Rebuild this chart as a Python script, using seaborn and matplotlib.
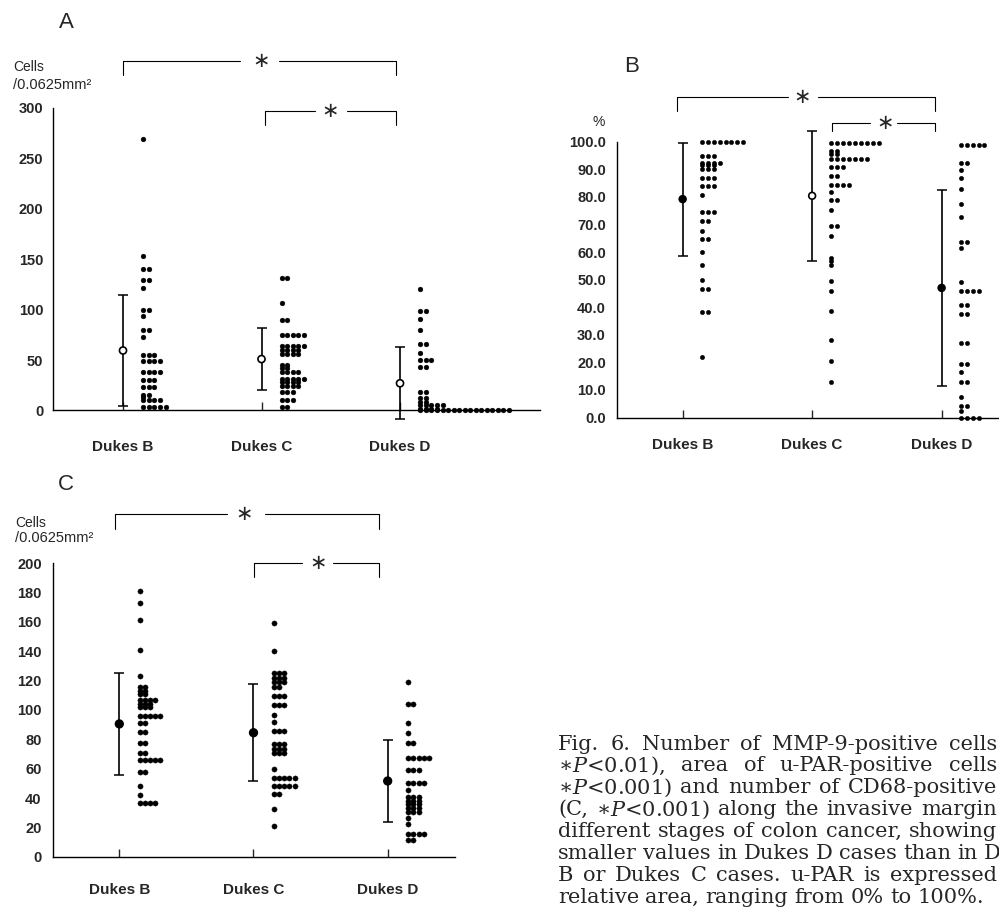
import numpy as np
import pandas as pd
import seaborn as sns
import matplotlib.pyplot as plt

stages = ["Dukes B", "Dukes C", "Dukes D"]

# A: MMP-9-positive cells /0.0625mm2  (value, number of cases with that value)
a_b_values = [269, 153, 140, 129, 121, 100, 94, 80, 73, 55, 49, 38, 30, 23, 15, 13, 10, 3]
a_b_counts = [1, 1, 2, 2, 1, 2, 1, 2, 1, 3, 4, 4, 3, 3, 2, 1, 4, 5]
a_c_values = [131, 107, 90, 75, 64, 60, 56, 45, 42, 38, 31, 28, 24, 18, 10, 3]
a_c_counts = [2, 1, 2, 5, 5, 4, 4, 2, 2, 4, 5, 4, 4, 3, 3, 2]
a_d_values = [120, 99, 91, 80, 66, 57, 50, 43, 18, 12, 8, 5, 1, 0]
a_d_counts = [1, 2, 1, 1, 2, 1, 3, 2, 2, 2, 2, 5, 4, 17]
a_means = [59.5, 51, 27]
a_sds = [55, 31, 35.5]

# B: u-PAR-positive area (%)
b_b_values = [100, 95, 92.4, 91.5, 90, 87, 84, 80.6, 74.6, 71.3, 67.7, 64.7, 60, 55.4, 50, 46.6, 38.3, 21.8]
b_b_counts = [8, 3, 4, 3, 3, 3, 3, 1, 3, 2, 1, 2, 1, 1, 1, 2, 2, 1]
b_c_values = [99.4, 96.7, 95.4, 93.8, 90.7, 87.7, 84.2, 81.9, 79, 75.2, 69.5, 65.9, 57.9, 56.6, 55.4,
              49.5, 46, 38.8, 28, 20.4, 12.7]
b_c_counts = [9, 2, 2, 7, 3, 2, 4, 1, 2, 1, 2, 1, 1, 1, 1, 1, 1, 1, 1, 1, 1]
b_d_values = [98.8, 92.4, 89.7, 86.7, 82.7, 77.4, 72.8, 63.7, 61.3, 49, 45.9, 40.7, 37.7, 27.2, 19.3,
              16.6, 12.7, 7.5, 4.1, 2.4, 0]
b_d_counts = [5, 2, 1, 1, 1, 1, 1, 2, 1, 1, 4, 2, 2, 2, 2, 1, 2, 1, 2, 1, 4]
b_means = [79.2, 80.4, 47]
b_sds = [20.5, 23.5, 35.5]

# C: CD68-positive cells /0.0625mm2
c_b_values = [181, 173, 161, 141, 123, 115.5, 113, 111, 106.7, 104.4, 101.8, 95.6, 91, 85, 77.8, 71, 66,
              57.8, 48, 41.8, 36.7]
c_b_counts = [1, 1, 1, 1, 1, 2, 2, 2, 4, 3, 3, 5, 2, 2, 2, 2, 5, 2, 1, 1, 4]
c_c_values = [159.6, 140, 125, 121.6, 119.3, 115.5, 109.3, 103.3, 96.7, 91.8, 85.6, 76.7, 73.3, 70.4, 60,
              53.8, 48.2, 42.7, 32.2, 21.1]
c_c_counts = [1, 1, 3, 3, 3, 2, 3, 3, 1, 1, 3, 3, 3, 3, 1, 5, 5, 2, 1, 1]
c_d_values = [119.3, 104, 91, 84.4, 77.8, 67, 58.9, 50, 45.6, 40.4, 37.8, 35.6, 32.9, 30.4, 26.7, 22.2,
              15.6, 11.1]
c_d_counts = [1, 2, 1, 1, 2, 5, 3, 4, 1, 3, 3, 3, 3, 3, 1, 1, 4, 2]
c_means = [90.5, 84.5, 51.6]
c_sds = [34.5, 33, 27.8]

# legend lines as far as the scan shows them (it is cut at the right edge)
caption = [
    "Fig. 6. Number of MMP-9-positive cells",
    "\u2217$P$<0.01), area of u-PAR-positive cells",
    "\u2217$P$<0.001) and number of CD68-positive",
    "(C, \u2217$P$<0.001) along the invasive margin",
    "different stages of colon cancer, showing",
    "smaller values in Dukes D cases than in D",
    "B or Dukes C cases. u-PAR is expressed",
    "relative area, ranging from 0% to 100%.",
]

sns.set_style("ticks")
plt.rcParams["font.family"] = ["Liberation Sans", "DejaVu Sans"]
plt.rcParams["mathtext.fontset"] = "dejavuserif"
plt.rcParams["axes.edgecolor"] = "black"
plt.rcParams["axes.linewidth"] = 1.0


def dot_panel(ax, values, counts, means, sds, offset, step, size, faces, msize):
    frames = []
    for i in range(3):
        frames.append(pd.DataFrame({"stage": i, "value": np.repeat(values[i], counts[i])}))
    df = pd.concat(frames, ignore_index=True)
    # equal values are stacked side by side to the right of the mean bar
    df["slot"] = df.groupby(["stage", "value"]).cumcount()
    df["xpos"] = df["stage"] + offset + df["slot"] * step
    sns.scatterplot(data=df, x="xpos", y="value", ax=ax, color="black", s=size,
                    edgecolor="black", linewidth=0.3, legend=False, clip_on=False, zorder=3)
    ax.errorbar([0, 1, 2], means, yerr=sds, fmt="none", ecolor="black", elinewidth=1.2,
                capsize=3.5, capthick=1.1, clip_on=False)
    ax.scatter([0, 1, 2], means, s=msize, facecolors=faces, edgecolors="black",
               linewidths=1.2, zorder=4, clip_on=False)
    ax.set_xlabel("")
    ax.set_ylabel("")


def style_axis(ax, xlim, ylim, yticks, ylabels, xpad, ypad):
    ax.set_xlim(xlim)
    ax.set_ylim(ylim)
    ax.set_xticks([0, 1, 2], stages)
    ax.set_yticks(yticks, ylabels)
    sns.despine(ax=ax)
    ax.tick_params(axis="x", direction="in", length=6, width=1.0, pad=xpad, labelsize=11)
    ax.tick_params(axis="y", length=0, pad=ypad, labelsize=10.5)
    for lab in ax.get_xticklabels() + ax.get_yticklabels():
        lab.set_fontweight("bold")


def bracket(ax, x0, x1, y, y0, gap0, gap1, xs):
    ax.plot([x0, x0, gap0], [y0, y, y], color="black", lw=0.8, clip_on=False)
    ax.plot([gap1, x1, x1], [y, y, y0], color="black", lw=0.8, clip_on=False)
    ax.text(xs, y, "\u2217", ha="center", va="center", fontsize=15,
            family=["DejaVu Sans"], clip_on=False)


fig = plt.figure(figsize=(9.99, 9.11), dpi=100)

# panel A
ax_a = fig.add_axes([0.0531, 0.5494, 0.4875, 0.3321])
dot_panel(ax_a, [a_b_values, a_c_values, a_d_values], [a_b_counts, a_c_counts, a_d_counts],
          a_means, a_sds, 0.147, 0.040, 12, ["white", "white", "white"], 26)
style_axis(ax_a, (-0.505, 3.011), (0, 300), range(0, 301, 50),
           [str(v) for v in range(0, 301, 50)], 21.5, 7)
bracket(ax_a, 0.0, 1.97, 347, 333, 0.845, 1.126, 1.0)
bracket(ax_a, 1.025, 1.97, 297, 283, 1.386, 1.617, 1.495)

# panel B
ax_b = fig.add_axes([0.6176, 0.5417, 0.3824, 0.3027])
dot_panel(ax_b, [b_b_values, b_c_values, b_d_values], [b_b_counts, b_c_counts, b_d_counts],
          b_means, b_sds, 0.147, 0.046, 10, ["black", "white", "black"], 24)
style_axis(ax_b, (-0.507, 2.443), (0, 100), range(0, 101, 10),
           ["%.1f" % v for v in range(0, 101, 10)], 15, 8)
bracket(ax_b, -0.042, 1.948, 116.3, 111.3, 0.813, 1.045, 0.924)
bracket(ax_b, 1.155, 1.948, 106.7, 103.9, 1.446, 1.655, 1.562)

# panel C
ax_c = fig.add_axes([0.0528, 0.0596, 0.4027, 0.3221])
dot_panel(ax_c, [c_b_values, c_c_values, c_d_values], [c_b_counts, c_c_counts, c_d_counts],
          c_means, c_sds, 0.154, 0.038, 14, ["black", "black", "black"], 30)
style_axis(ax_c, (-0.496, 2.502), (0, 200), range(0, 201, 20),
           [str(v) for v in range(0, 201, 20)], 19, 8)
bracket(ax_c, -0.032, 1.937, 233.7, 223.4, 0.80, 1.086, 0.931)
bracket(ax_c, 1.004, 1.937, 200, 190.4, 1.359, 1.595, 1.478)

# panel letters and axis units
fig.text(66 / 999, 1 - 22 / 911, "A", fontsize=16, ha="center", va="center")
fig.text(632 / 999, 1 - 67 / 911, "B", fontsize=16, ha="center", va="center")
fig.text(66 / 999, 1 - 485 / 911, "C", fontsize=16, ha="center", va="center")
fig.text(13 / 999, 1 - 67 / 911, "Cells", fontsize=10, ha="left", va="center")
fig.text(13 / 999, 1 - 85 / 911, "/0.0625mm\u00b2", fontsize=10.5, ha="left", va="center")
fig.text(599 / 999, 1 - 122 / 911, "%", fontsize=10, ha="center", va="center")
fig.text(15 / 999, 1 - 523 / 911, "Cells", fontsize=10, ha="left", va="center")
fig.text(15 / 999, 1 - 538 / 911, "/0.0625mm\u00b2", fontsize=10.5, ha="left", va="center")

# figure legend, justified word by word like the printed page
renderer = fig.canvas.get_renderer()
cap_size = 15
x_left, x_right = 558, 997
space = 0.3 * cap_size * 100 / 72
for i, line in enumerate(caption):
    y = 1 - (744 + 21.9 * i) / 911
    words = line.split(" ")
    texts = [fig.text(0, y, w, fontsize=cap_size, family=["DejaVu Serif"],
                      ha="left", va="center") for w in words]
    widths = [t.get_window_extent(renderer).width for t in texts]
    gap = space
    if i < len(caption) - 1 and len(words) > 1:
        gap = max(space, (x_right - x_left - sum(widths)) / (len(words) - 1))
    x = x_left
    for t, w in zip(texts, widths):
        t.set_x(x / 999)
        x += w + gap

fig.savefig("out.png", dpi=100)
